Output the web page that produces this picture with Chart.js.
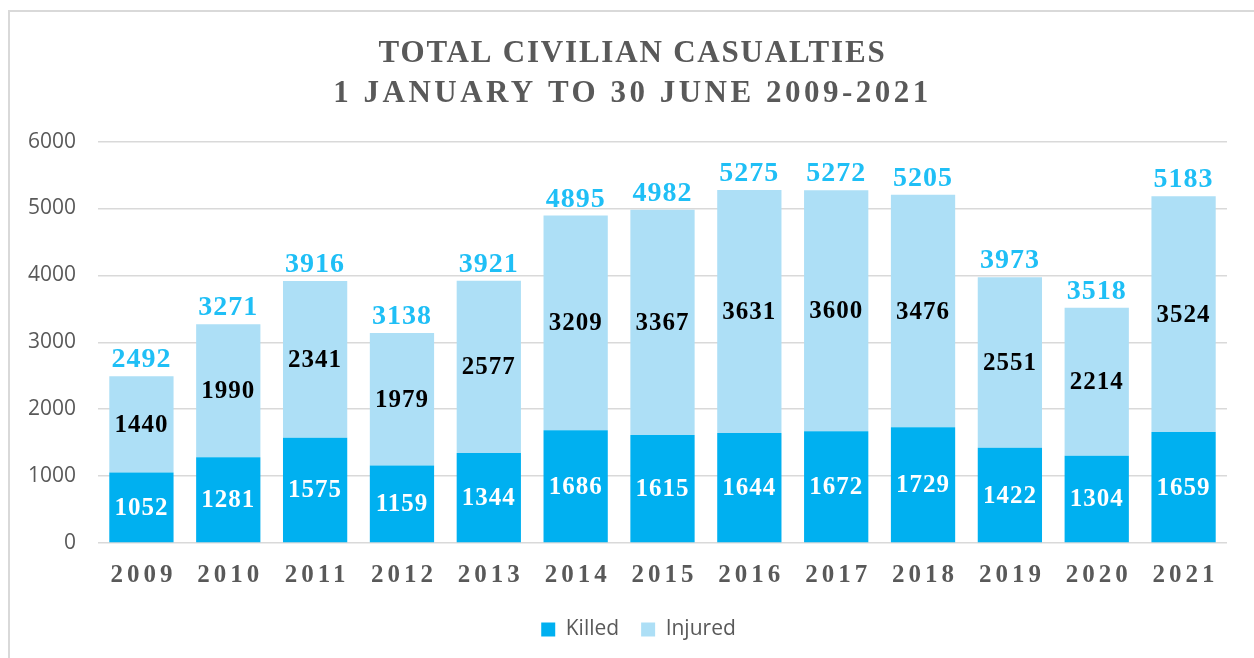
<!DOCTYPE html>
<html>
<head>
<meta charset="utf-8">
<script src="https://cdn.jsdelivr.net/npm/chart.js@4.4.1/dist/chart.umd.min.js"></script>
<style>
  html, body { margin: 0; padding: 0; background: #fff; }
  #wrap { position: relative; width: 1254px; height: 658px; }
  #frame { position: absolute; left: 8px; top: 10px; right: 0; bottom: 0;
           border-top: 2px solid #d9d9d9; border-left: 2px solid #d9d9d9; }
  canvas { position: absolute; left: 0; top: 0; }
</style>
</head>
<body>
<div id="wrap">
  <div id="frame"></div>
  <canvas id="chart" width="1254" height="658"></canvas>
</div>
<script>
/* Civilian casualties, 1 Jan - 30 Jun, stacked bars (Killed + Injured) with value labels. */
var TITLE    = "TOTAL CIVILIAN CASUALTIES";
var SUBTITLE = "1 JANUARY TO 30 JUNE 2009-2021";
var YEARS   = ["2009", "2010", "2011", "2012", "2013", "2014", "2015", "2016", "2017", "2018", "2019", "2020", "2021"];
var KILLED  = [1052, 1281, 1575, 1159, 1344, 1686, 1615, 1644, 1672, 1729, 1422, 1304, 1659];
var INJURED = [1440, 1990, 2341, 1979, 2577, 3209, 3367, 3631, 3600, 3476, 2551, 2214, 3524];
var TOTALS  = [2492, 3271, 3916, 3138, 3921, 4895, 4982, 5275, 5272, 5205, 3973, 3518, 5183];
var Y_TICKS = { min: 0, max: 6000, step: 1000 };

var KILLED_C = "#00b0f0", INJURED_C = "#addff6", TOTAL_C = "#1fbff6",
    GREY = "#595959", GRID = "#d9d9d9";
var SERIF = "'Liberation Serif', 'DejaVu Serif', serif";
var SANS = "'Open Sans', 'Noto Sans', sans-serif";

// letter spacing / horizontal nudge for boxes the library draws itself
function tweak(obj, method, px, dx) {
  if (!obj) return;
  var orig = obj[method];
  obj[method] = function () {
    var ctx = this.ctx;
    ctx.save();
    ctx.letterSpacing = px;
    ctx.translate(dx, 0);
    var r = orig.apply(this, arguments);
    ctx.restore();
    return r;
  };
}
var spacing = {
  id: "spacing",
  afterLayout: function (chart) {
    if (chart._tweaked) return;
    var sub = chart.boxes.filter(function (b) {
      return b !== chart.titleBlock && b.options && b.options.text === SUBTITLE;
    })[0];
    tweak(chart.titleBlock, "draw", "1.8px", 19);
    tweak(sub, "draw", "3.5px", 19);
    tweak(chart.legend, "draw", "0px", 25);
    tweak(chart.scales.x, "drawLabels", "4px", 2);
    chart._tweaked = true;
  }
};

var valueLabels = {
  id: "valueLabels",
  afterDatasetsDraw: function (chart) {
    var ctx = chart.ctx, k = chart.getDatasetMeta(0).data, inj = chart.getDatasetMeta(1).data;
    ctx.save();
    ctx.letterSpacing = "1px";
    ctx.textAlign = "center";
    ctx.textBaseline = "middle";
    ctx.font = "bold 25px " + SERIF;
    for (var i = 0; i < k.length; i++) {
      ctx.fillStyle = "#ffffff";
      ctx.fillText(String(KILLED[i]), k[i].x, (k[i].y + k[i].base) / 2 + 1);
      ctx.fillStyle = "#000000";
      ctx.fillText(String(INJURED[i]), inj[i].x, (inj[i].y + inj[i].base) / 2 + 1);
    }
    ctx.font = "bold 28px " + SERIF;
    ctx.textBaseline = "alphabetic";
    ctx.fillStyle = TOTAL_C;
    for (var j = 0; j < inj.length; j++) ctx.fillText(String(TOTALS[j]), inj[j].x, inj[j].y - 9);
    ctx.restore();
  }
};

new Chart(document.getElementById("chart"), {
  type: "bar",
  data: {
    labels: YEARS,
    datasets: [
      { label: "Killed", data: KILLED, backgroundColor: KILLED_C, barPercentage: 0.74, categoryPercentage: 1 },
      { label: "Injured", data: INJURED, backgroundColor: INJURED_C, barPercentage: 0.74, categoryPercentage: 1 }
    ]
  },
  options: {
    responsive: false, animation: false, devicePixelRatio: 1,
    layout: { padding: { left: 0, right: 27, top: 0, bottom: 8 } },
    plugins: {
      tooltip: { enabled: false },
      title: {
        display: true, text: TITLE,
        color: GREY, font: { family: SERIF, size: 31, weight: "bold", lineHeight: 1.3 },
        padding: { top: 34, bottom: 0 }
      },
      subtitle: {
        display: true, text: SUBTITLE,
        color: GREY, font: { family: SERIF, size: 31, weight: "bold", lineHeight: 1.3 },
        padding: { top: 0, bottom: 27 }
      },
      legend: {
        display: true, position: "bottom",
        labels: { color: GREY, font: { family: SANS, size: 21 }, boxWidth: 14, boxHeight: 14, padding: 22 }
      }
    },
    scales: {
      x: {
        stacked: true,
        grid: { display: false }, border: { display: false },
        ticks: { color: GREY, font: { family: SERIF, size: 25, weight: "bold" }, padding: 10, autoSkip: false, maxRotation: 0 },
        afterFit: function (s) { s.height = 54; }
      },
      y: {
        stacked: true, min: Y_TICKS.min, max: Y_TICKS.max,
        grid: { color: GRID, lineWidth: 1.5, drawTicks: false }, border: { display: false },
        ticks: { stepSize: Y_TICKS.step, color: GREY, font: { family: SANS, size: 21 }, padding: 22,
                 callback: function (v) { return String(v); } },
        afterFit: function (s) { s.width = 98; }
      }
    }
  },
  plugins: [spacing, valueLabels]
});
</script>
</body>
</html>
